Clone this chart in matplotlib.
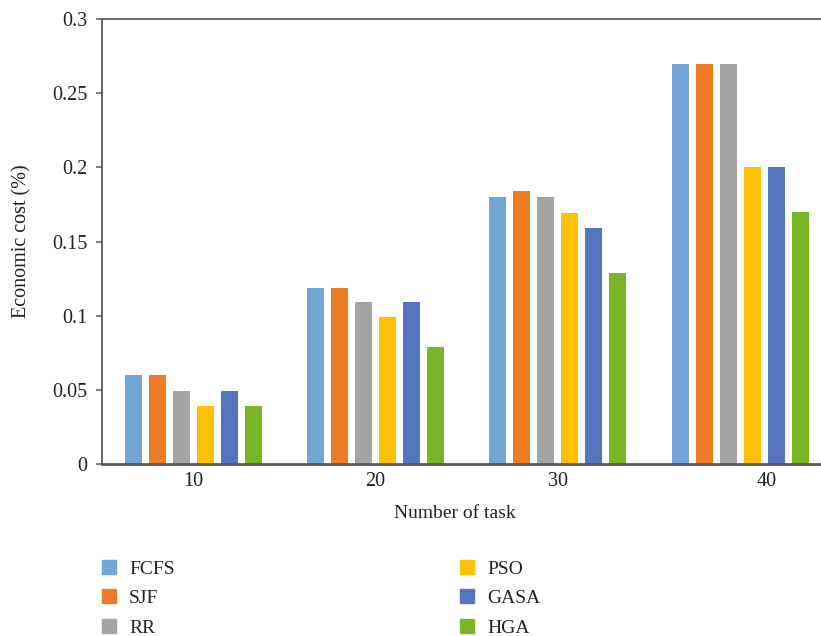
import numpy as np
import matplotlib
matplotlib.use("Agg")
import matplotlib.pyplot as plt
import matplotlib.patches as mpatches

tasks = ['10', '20', '30', '40']
methods = ['FCFS', 'SJF', 'RR', 'PSO', 'GASA', 'HGA']

fcfs = [0.06, 0.119, 0.18, 0.27]
sjf = [0.06, 0.119, 0.184, 0.27]
rr = [0.049, 0.109, 0.18, 0.27]
pso = [0.039, 0.099, 0.169, 0.20]
gasa = [0.049, 0.109, 0.159, 0.20]
hga = [0.039, 0.079, 0.129, 0.17]

series = [fcfs, sjf, rr, pso, gasa, hga]
colors = ['#72A6D7', '#EE7B25', '#A6A4A3', '#FCC100', '#5475BC', '#7AB427']

plt.rcParams['font.family'] = ['Liberation Serif', 'DejaVu Serif']
txt_col = '#222222'
axis_col = '#595959'

fig = plt.figure(figsize=(8.21, 6.36), dpi=100)
ax = fig.add_axes([0.1242, 0.2704, 1 - 0.1242, 0.6997])

x = np.arange(len(tasks))
pitch = 0.1317
width = 0.0933
for k, (vals, c) in enumerate(zip(series, colors)):
    ax.bar(x + (k - 2.5) * pitch, vals, width=width, color=c, label=methods[k], zorder=2)

ax.set_xlim(-0.502, 3.444)
ax.set_ylim(0, 0.3)
ax.set_yticks([0, 0.05, 0.1, 0.15, 0.2, 0.25, 0.3])
ax.set_yticklabels(['0', '0.05', '0.1', '0.15', '0.2', '0.25', '0.3'])
# the last category label sits a bit right of its group
ax.set_xticks([0, 1, 2, 3.148])
ax.set_xticklabels(tasks)

ax.spines['right'].set_visible(False)
ax.spines['top'].set_color(axis_col)
ax.spines['top'].set_linewidth(1.3)
ax.spines['left'].set_color(axis_col)
ax.spines['left'].set_linewidth(1.3)
ax.spines['bottom'].set_color(axis_col)
ax.spines['bottom'].set_linewidth(2.0)
ax.spines['bottom'].set_zorder(3)

ax.tick_params(axis='y', direction='out', length=4.3, width=1.1, color=axis_col,
               pad=6, labelsize=14.5, labelcolor=txt_col)
ax.tick_params(axis='x', length=0, pad=6, labelsize=14.5, labelcolor=txt_col)

ax.set_ylabel('Economic cost (%)', fontsize=14.5, color=txt_col, va='center')
ax.yaxis.set_label_coords((22 - 102) / 719, 0.5)
ax.set_xlabel('Number of task', fontsize=14, color=txt_col, va='center')
ax.xaxis.set_label_coords((455 - 102) / 719, -(513 - 464) / 445)

handles = [mpatches.Patch(color=c, label=m) for m, c in zip(methods, colors)]
common = dict(frameon=False, fontsize=14, handlelength=0.72, handleheight=0.72,
              handletextpad=0.67, labelspacing=0.6, borderpad=0, borderaxespad=0,
              labelcolor=txt_col)
leg1 = fig.legend(handles=handles[:3], loc='upper left',
                  bbox_to_anchor=(102 / 821, 1 - 560 / 636), **common)
leg2 = fig.legend(handles=handles[3:], loc='upper left',
                  bbox_to_anchor=(460 / 821, 1 - 560 / 636), **common)

fig.savefig('out.png', dpi=100)
